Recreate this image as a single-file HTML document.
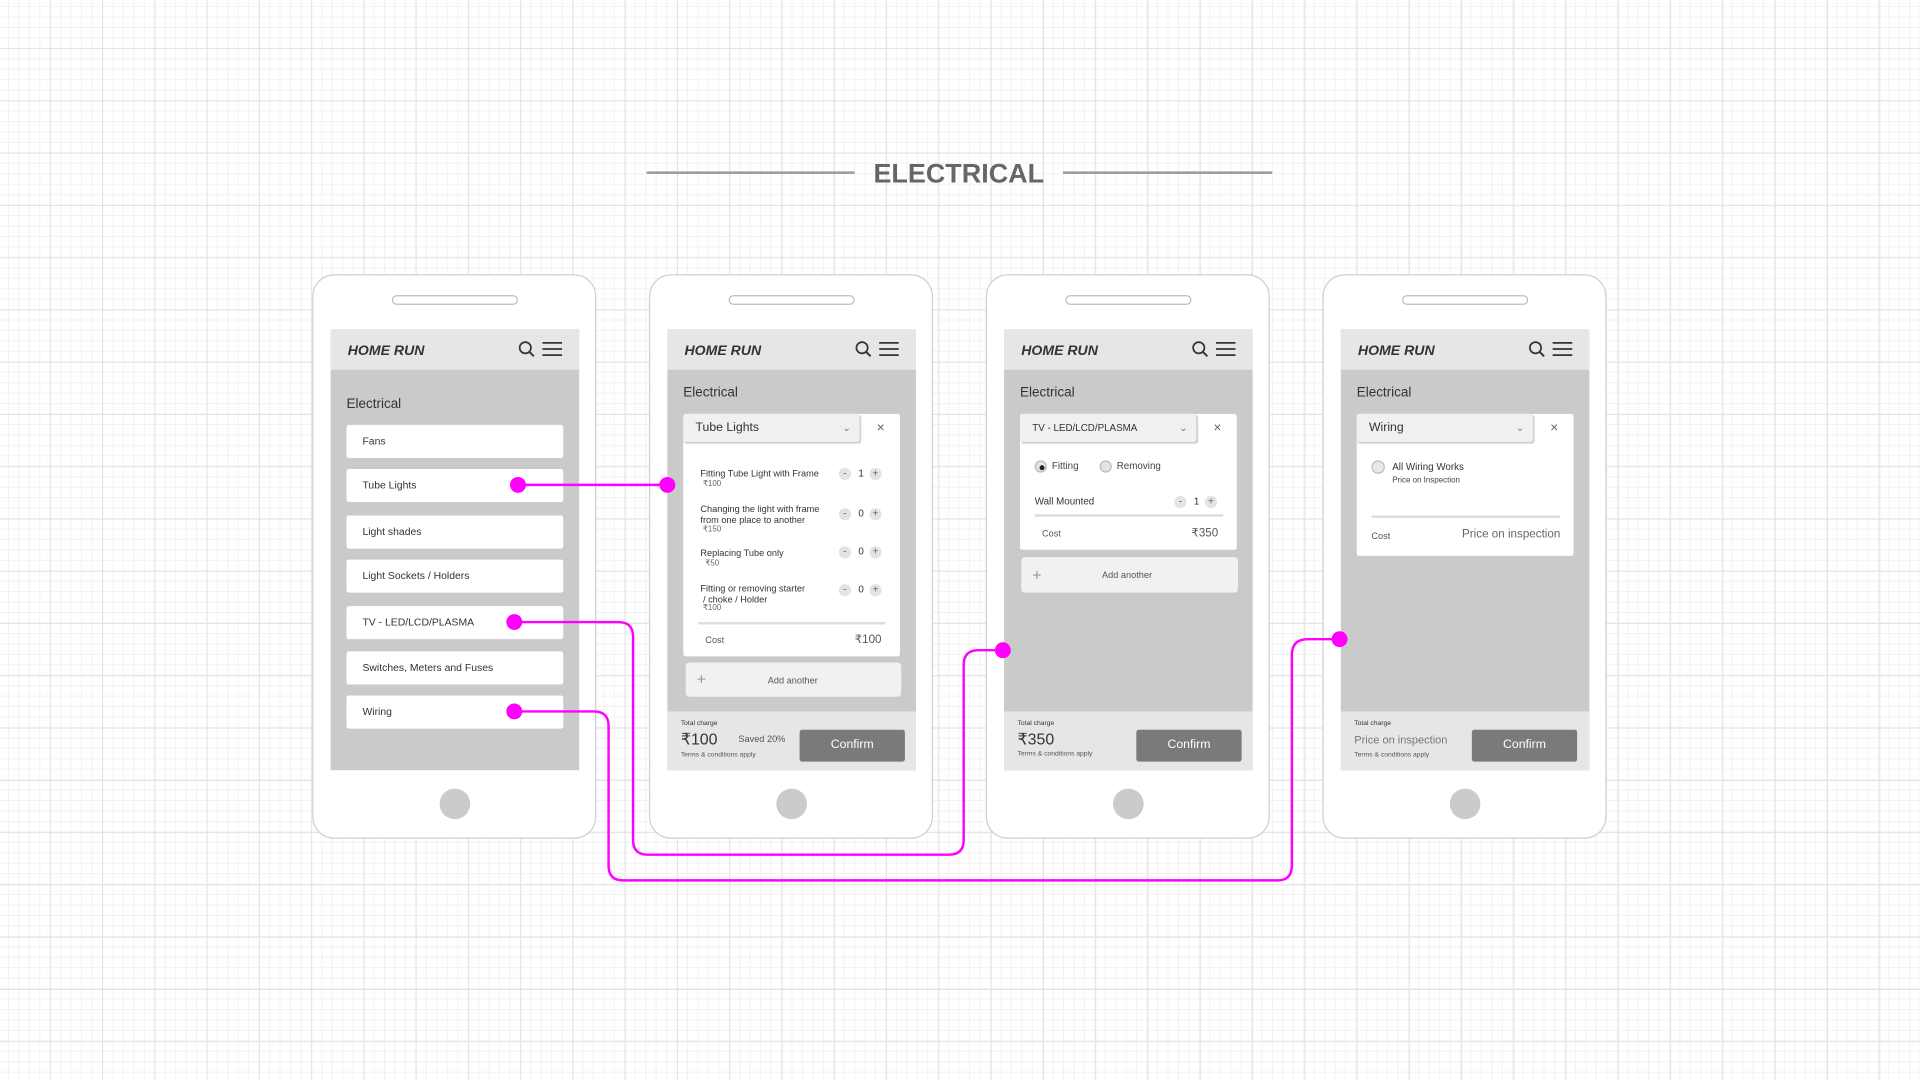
<!DOCTYPE html>
<html><head><meta charset="utf-8">
<style>
*{margin:0;padding:0;box-sizing:border-box}
html,body{width:1920px;height:1080px;overflow:hidden;background:#fff}
#w{position:absolute;left:0;top:0;width:1568px;height:882px;transform:scale(1.22449);transform-origin:0 0;font-family:"Liberation Sans",sans-serif;
background-color:#fff;
background-image:
linear-gradient(to right,#e3e3e3 1px,transparent 1px),
linear-gradient(to bottom,#e3e3e3 1px,transparent 1px),
linear-gradient(to right,#f2f2f2 1px,transparent 1px),
linear-gradient(to bottom,#f2f2f2 1px,transparent 1px);
background-size:42.7px 42.7px,42.7px 42.7px,8.54px 8.54px,8.54px 8.54px;
background-position:40.7px 39.3px,40.7px 39.3px,6.5px 5px,6.5px 5px;}
.a{position:absolute}
.t{position:absolute;line-height:1;white-space:nowrap;color:#333}
.phone{position:absolute;top:224px;width:232px;height:461px;border:1.5px solid #cfcfcf;border-radius:18px;background:#fff}
.spk{position:absolute;left:64px;top:16px;width:103px;height:8px;border:1.5px solid #bdbdbd;border-radius:5px}
.hb{position:absolute;left:103px;top:419px;width:25px;height:25px;border-radius:50%;background:#cbcbcb}
.scr{position:absolute;left:14px;top:44px;width:203px;height:360px;background:#cacaca}
.hdr{position:absolute;left:0;top:0;width:203px;height:33px;background:#e6e6e6}
.logo{position:absolute;left:14px;top:13px;font-size:11.5px;font-weight:bold;font-style:italic;color:#333;line-height:1}
.ftr{position:absolute;left:0;top:312px;width:203px;height:48px;background:#e6e6e6}
.item{position:absolute;left:13px;width:177px;height:27px;background:#fff;border-radius:2px;font-size:8.5px;color:#333;padding-left:13px;line-height:27px}
.card{position:absolute;background:#fff;border-radius:2px}
.dd{position:absolute;left:0;top:0;height:23px;background:#f0f0f0;border-radius:2px;box-shadow:1px 1px 1px #c8c8c8;font-size:10px;color:#333;padding-left:10px;line-height:23px}
.btn{position:absolute;width:86px;height:26px;background:#7a7a7a;border-radius:2px;color:#fff;font-size:10px;text-align:center;line-height:26px}
.cb{position:absolute;width:10px;height:10px;border-radius:50%;background:#e3e3e3;font-size:8px;color:#666;text-align:center;line-height:10px}
.add{position:absolute;background:#f1f1f1;border-radius:3px}
</style></head><body><div id="w">

<div class="a" style="left:528px;top:140px;width:170px;height:2px;background:#999"></div>
<div class="a" style="left:868px;top:140px;width:171px;height:2px;background:#999"></div>
<div class="t" style="left:698px;top:131px;width:170px;text-align:center;font-size:22px;font-weight:bold;color:#666">ELECTRICAL</div>

<!-- Phone 1 -->
<div class="phone" style="left:255px"><div class="spk"></div><div class="hb"></div>
<div class="scr">
<div class="hdr"><div class="logo">HOME RUN</div>
<svg class="a" style="left:153px;top:9px" width="40" height="16"><circle cx="6" cy="6" r="4.6" fill="none" stroke="#333" stroke-width="1.4"/><line x1="9.5" y1="9.5" x2="13" y2="13" stroke="#333" stroke-width="1.6"/><g stroke="#333" stroke-width="1.4"><line x1="20" y1="2" x2="36" y2="2"/><line x1="20" y1="7" x2="36" y2="7"/><line x1="20" y1="12" x2="36" y2="12"/></g></svg></div>
<div class="t" style="left:13px;top:56px;font-size:11px">Electrical</div>
<div class="item" style="top:78px">Fans</div>
<div class="item" style="top:114px">Tube Lights</div>
<div class="item" style="top:152px">Light shades</div>
<div class="item" style="top:188px">Light Sockets / Holders</div>
<div class="item" style="top:226px">TV - LED/LCD/PLASMA</div>
<div class="item" style="top:263px">Switches, Meters and Fuses</div>
<div class="item" style="top:299px">Wiring</div>
</div></div>

<!-- Phone 2 -->
<div class="phone" style="left:530px"><div class="spk"></div><div class="hb"></div>
<div class="scr">
<div class="hdr"><div class="logo">HOME RUN</div>
<svg class="a" style="left:153px;top:9px" width="40" height="16"><circle cx="6" cy="6" r="4.6" fill="none" stroke="#333" stroke-width="1.4"/><line x1="9.5" y1="9.5" x2="13" y2="13" stroke="#333" stroke-width="1.6"/><g stroke="#333" stroke-width="1.4"><line x1="20" y1="2" x2="36" y2="2"/><line x1="20" y1="7" x2="36" y2="7"/><line x1="20" y1="12" x2="36" y2="12"/></g></svg></div>
<div class="t" style="left:13px;top:47px;font-size:11px">Electrical</div>
<div class="card" style="left:13px;top:69px;width:177px;height:198px">
<div class="dd" style="width:144px">Tube Lights<span class="a" style="left:130px;top:0;font-size:8px;color:#777">&#x2304;</span></div>
<div class="t" style="left:158px;top:7px;font-size:11px;color:#666">×</div>
<div class="t" style="left:14px;top:45px;font-size:7.5px">Fitting Tube Light with Frame</div>
<div class="t" style="left:16px;top:55px;font-size:6.5px;color:#666">₹100</div>
<div class="t" style="left:14px;top:73px;font-size:7.5px;line-height:1.25">Changing the light with frame<br>from one place to another</div>
<div class="t" style="left:16px;top:92px;font-size:6.5px;color:#666">₹150</div>
<div class="t" style="left:14px;top:110px;font-size:7.5px">Replacing Tube only</div>
<div class="t" style="left:18px;top:120px;font-size:6.5px;color:#666">₹50</div>
<div class="t" style="left:14px;top:138px;font-size:7.5px;line-height:1.25">Fitting or removing starter<br>&nbsp;/ choke / Holder</div>
<div class="t" style="left:16px;top:156px;font-size:6.5px;color:#666">₹100</div>
<div class="cb" style="left:127px;top:44px">-</div><div class="t" style="left:143px;top:45px;font-size:8px">1</div><div class="cb" style="left:152px;top:44px">+</div>
<div class="cb" style="left:127px;top:77px">-</div><div class="t" style="left:143px;top:78px;font-size:8px">0</div><div class="cb" style="left:152px;top:77px">+</div>
<div class="cb" style="left:127px;top:108px">-</div><div class="t" style="left:143px;top:109px;font-size:8px">0</div><div class="cb" style="left:152px;top:108px">+</div>
<div class="cb" style="left:127px;top:139px">-</div><div class="t" style="left:143px;top:140px;font-size:8px">0</div><div class="cb" style="left:152px;top:139px">+</div>
<div class="a" style="left:12px;top:170px;width:153px;height:1.5px;background:#ddd"></div>
<div class="t" style="left:18px;top:181px;font-size:7.5px;color:#555">Cost</div>
<div class="t" style="left:140px;top:180px;font-size:9.5px;color:#555">₹100</div>
</div>
<div class="add" style="left:15px;top:272px;width:176px;height:28px"><div class="t" style="left:9px;top:7px;font-size:13px;color:#999;font-weight:normal">+</div><div class="t" style="left:67px;top:11px;font-size:7.5px;color:#555">Add another</div></div>
<div class="ftr"><div class="t" style="left:11px;top:8px;font-size:5.5px">Total charge</div>
<div class="t" style="left:11px;top:16px;font-size:13px">₹100</div>
<div class="t" style="left:58px;top:19px;font-size:7.5px;color:#555">Saved 20%</div>
<div class="t" style="left:11px;top:34px;font-size:5.5px;color:#555">Terms &amp; conditions apply</div>
<div class="btn" style="left:108px;top:15px">Confirm</div></div>
</div></div>

<!-- Phone 3 -->
<div class="phone" style="left:805px"><div class="spk"></div><div class="hb"></div>
<div class="scr">
<div class="hdr"><div class="logo">HOME RUN</div>
<svg class="a" style="left:153px;top:9px" width="40" height="16"><circle cx="6" cy="6" r="4.6" fill="none" stroke="#333" stroke-width="1.4"/><line x1="9.5" y1="9.5" x2="13" y2="13" stroke="#333" stroke-width="1.6"/><g stroke="#333" stroke-width="1.4"><line x1="20" y1="2" x2="36" y2="2"/><line x1="20" y1="7" x2="36" y2="7"/><line x1="20" y1="12" x2="36" y2="12"/></g></svg></div>
<div class="t" style="left:13px;top:47px;font-size:11px">Electrical</div>
<div class="card" style="left:13px;top:69px;width:177px;height:111px">
<div class="dd" style="width:144px;font-size:8px">TV - LED/LCD/PLASMA<span class="a" style="left:130px;top:0;font-size:8px;color:#777">&#x2304;</span></div>
<div class="t" style="left:158px;top:7px;font-size:11px;color:#666">×</div>
<div class="a" style="left:12px;top:38px;width:10px;height:10px;border-radius:50%;background:#e3e3e3;border:1px solid #bbb"><div class="a" style="left:2.5px;top:2.5px;width:4px;height:4px;border-radius:50%;background:#222"></div></div>
<div class="t" style="left:26px;top:39px;font-size:8px;color:#444">Fitting</div>
<div class="a" style="left:65px;top:38px;width:10px;height:10px;border-radius:50%;background:#e3e3e3;border:1px solid #bbb"></div>
<div class="t" style="left:79px;top:39px;font-size:8px;color:#444">Removing</div>
<div class="t" style="left:12px;top:68px;font-size:8px">Wall Mounted</div>
<div class="cb" style="left:126px;top:67px">-</div><div class="t" style="left:142px;top:68px;font-size:8px">1</div><div class="cb" style="left:151px;top:67px">+</div>
<div class="a" style="left:12px;top:82px;width:154px;height:1.5px;background:#ddd"></div>
<div class="t" style="left:18px;top:94px;font-size:7.5px;color:#555">Cost</div>
<div class="t" style="left:140px;top:93px;font-size:9.5px;color:#555">₹350</div>
</div>
<div class="add" style="left:14px;top:186px;width:177px;height:29px"><div class="t" style="left:9px;top:8px;font-size:13px;color:#999">+</div><div class="t" style="left:66px;top:11px;font-size:7.5px;color:#555">Add another</div></div>
<div class="ftr"><div class="t" style="left:11px;top:8px;font-size:5.5px">Total charge</div>
<div class="t" style="left:11px;top:16px;font-size:13px">₹350</div>
<div class="t" style="left:11px;top:33px;font-size:5.5px;color:#555">Terms &amp; conditions apply</div>
<div class="btn" style="left:108px;top:15px">Confirm</div></div>
</div></div>

<!-- Phone 4 -->
<div class="phone" style="left:1080px"><div class="spk"></div><div class="hb"></div>
<div class="scr">
<div class="hdr"><div class="logo">HOME RUN</div>
<svg class="a" style="left:153px;top:9px" width="40" height="16"><circle cx="6" cy="6" r="4.6" fill="none" stroke="#333" stroke-width="1.4"/><line x1="9.5" y1="9.5" x2="13" y2="13" stroke="#333" stroke-width="1.6"/><g stroke="#333" stroke-width="1.4"><line x1="20" y1="2" x2="36" y2="2"/><line x1="20" y1="7" x2="36" y2="7"/><line x1="20" y1="12" x2="36" y2="12"/></g></svg></div>
<div class="t" style="left:13px;top:47px;font-size:11px">Electrical</div>
<div class="card" style="left:13px;top:69px;width:177px;height:116px">
<div class="dd" style="width:144px">Wiring<span class="a" style="left:130px;top:0;font-size:8px;color:#777">&#x2304;</span></div>
<div class="t" style="left:158px;top:7px;font-size:11px;color:#666">×</div>
<div class="a" style="left:12px;top:38px;width:11px;height:11px;border-radius:50%;background:#e8e8e8;border:1px solid #bbb"></div>
<div class="t" style="left:29px;top:40px;font-size:8px">All Wiring Works</div>
<div class="t" style="left:29px;top:52px;font-size:6.5px;color:#444">Price on Inspection</div>
<div class="a" style="left:12px;top:83px;width:154px;height:1.5px;background:#ddd"></div>
<div class="t" style="left:12px;top:96px;font-size:7.5px;color:#555">Cost</div>
<div class="t" style="left:86px;top:94px;font-size:9.5px;color:#666">Price on inspection</div>
</div>
<div class="ftr"><div class="t" style="left:11px;top:8px;font-size:5.5px">Total charge</div>
<div class="t" style="left:11px;top:19px;font-size:9px;color:#777">Price on inspection</div>
<div class="t" style="left:11px;top:34px;font-size:5.5px;color:#555">Terms &amp; conditions apply</div>
<div class="btn" style="left:107px;top:15px">Confirm</div></div>
</div></div>

<svg class="a" style="left:0;top:0" width="1568" height="882">
<g fill="none" stroke="#ff00ff" stroke-width="2">
<path d="M423 396 H545"/>
<path d="M420 508 H505 Q517 508 517 520 V686 Q517 698 529 698 H775 Q787 698 787 686 V543 Q787 531 799 531 H819"/>
<path d="M420 581 H485 Q497 581 497 593 V707 Q497 719 509 719 H1043 Q1055 719 1055 707 V535 Q1055 522 1068 522 H1094"/>
</g>
<g fill="#ff00ff">
<circle cx="423" cy="396" r="6.5"/><circle cx="545" cy="396" r="6.5"/>
<circle cx="420" cy="508" r="6.5"/><circle cx="819" cy="531" r="6.5"/>
<circle cx="420" cy="581" r="6.5"/><circle cx="1094" cy="522" r="6.5"/>
</g></svg>
</div></body></html>
